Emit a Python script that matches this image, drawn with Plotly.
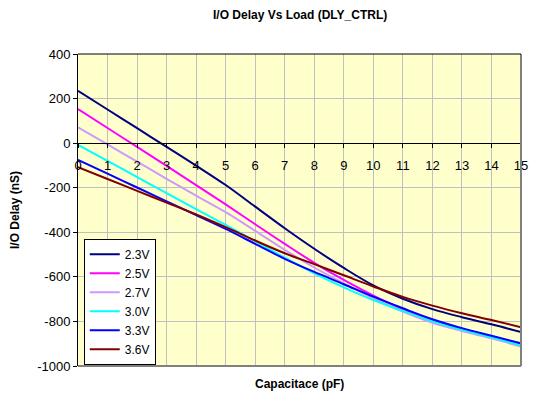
import plotly.graph_objects as go

capacitance = list(range(0, 16))
series_names = ["2.3V", "2.5V", "2.7V", "3.0V", "3.3V", "3.6V"]
series_colors = ["#000080", "#FF00FF", "#CC99FF", "#00FFFF", "#0000FF", "#800000"]

delay_2v3 = [235, 151, 67, -17, -101, -188, -285, -382, -474, -560, -638, -698, -745, -781, -813, -848]
delay_2v5 = [153, 68, -17, -102, -188, -275, -364, -452, -537, -614, -684, -745, -795, -835, -868, -904]
delay_2v7 = [71, -6, -83, -160, -236, -310, -394, -479, -558, -629, -696, -756, -806, -843, -876, -913]
delay_3v0 = [-8, -80, -152, -224, -296, -367, -440, -514, -584, -647, -704, -753, -799, -838, -871, -907]
delay_3v3 = [-75, -137, -199, -261, -323, -385, -452, -519, -578, -633, -689, -741, -790, -830, -864, -898]
delay_3v6 = [-108, -161, -214, -267, -320, -377, -437, -494, -543, -593, -643, -690, -729, -763, -794, -826]

all_series = [delay_2v3, delay_2v5, delay_2v7, delay_3v0, delay_3v3, delay_3v6]

y_ticks = [-1000, -800, -600, -400, -200, 0, 200, 400]
x_ticks = list(range(0, 16))

FONT = "Liberation Sans, Arial, sans-serif"

fig = go.Figure()
for name, color, vals in zip(series_names, series_colors, all_series):
    fig.add_trace(go.Scatter(x=capacitance, y=vals, mode="lines", name=name,
                             line=dict(color=color, width=2, shape="spline", smoothing=1.0)))

fig.update_layout(
    width=529, height=394,
    margin=dict(l=70, r=9, t=46, b=36),
    paper_bgcolor="white",
    plot_bgcolor="#FFFFCC",
    font=dict(family=FONT, size=13, color="black"),
    showlegend=True,
    legend=dict(x=0.013, y=0.004, xanchor="left", yanchor="bottom",
                bgcolor="white", bordercolor="black", borderwidth=1,
                font=dict(size=12), itemwidth=30, tracegroupgap=0),
    xaxis=dict(range=[0, 15], tickvals=x_ticks, ticktext=[str(v) for v in x_ticks],
               showgrid=True, gridcolor="#C0C0C0", gridwidth=1,
               zeroline=False, showline=True, linecolor="black", linewidth=1,
               ticks="outside", ticklen=4, tickcolor="black",
               anchor="free", position=1000 / 1400, ticklabelstandoff=6,
               tickfont=dict(size=13)),
    yaxis=dict(range=[-1000, 400], tickvals=y_ticks, ticktext=[str(v) for v in y_ticks],
               showgrid=True, gridcolor="#C0C0C0", gridwidth=1,
               zeroline=False, showline=True, linecolor="black", linewidth=1,
               ticks="outside", ticklen=4, tickcolor="black",
               tickfont=dict(size=13), domain=[0, 1]),
)

# plot area border: right & bottom dark gray, top black
fig.add_shape(type="line", xref="paper", yref="paper", x0=1, x1=1, y0=0, y1=1,
              line=dict(color="#808080", width=2), layer="above")
fig.add_shape(type="line", xref="paper", yref="paper", x0=0, x1=1, y0=0, y1=0,
              line=dict(color="#808080", width=2), layer="above")
fig.add_shape(type="line", xref="paper", yref="paper", x0=0, x1=1, y0=1, y1=1,
              line=dict(color="black", width=1), layer="above")

fig.add_annotation(text="<b>I/O Delay Vs Load (DLY_CTRL)</b>", xref="paper", yref="paper",
                   x=0.5, y=1, yanchor="middle", yshift=39, showarrow=False, font=dict(size=12))
fig.add_annotation(text="<b>Capacitace (pF)</b>", xref="paper", yref="paper",
                   x=0.5, y=0, yanchor="middle", yshift=-18, showarrow=False, font=dict(size=12))
fig.add_annotation(text="<b>I/O Delay (nS)</b>", xref="paper", yref="paper",
                   x=0, xanchor="center", xshift=-63, y=0.5, textangle=-90,
                   showarrow=False, font=dict(size=12))

fig.write_html("out.html")
